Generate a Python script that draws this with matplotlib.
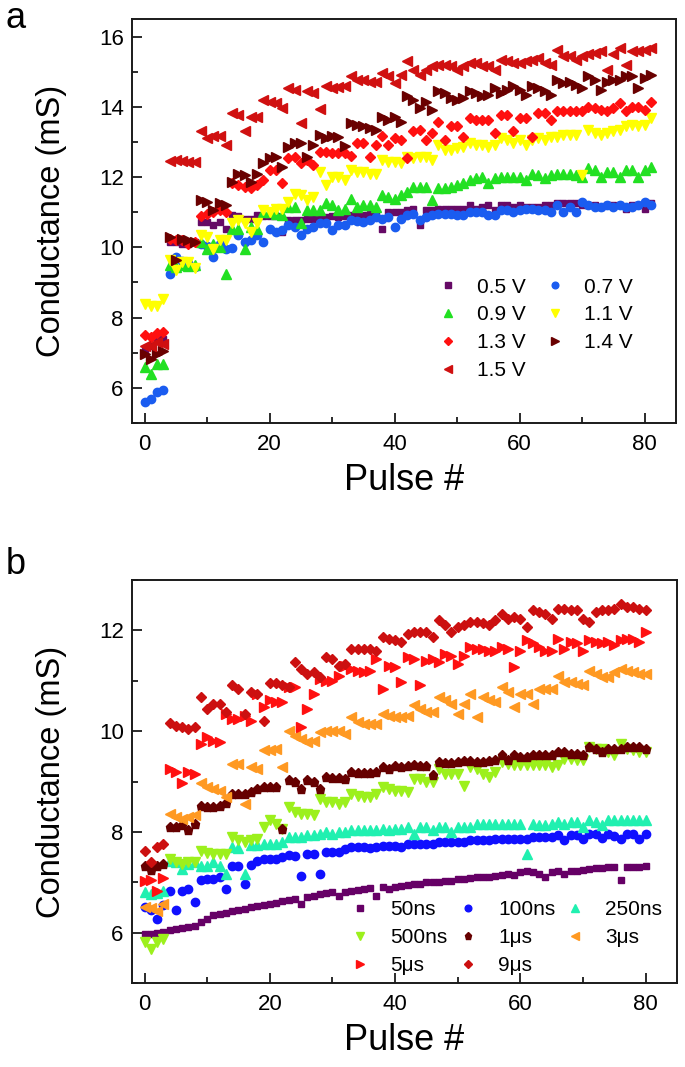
import matplotlib
matplotlib.use("Agg")
import matplotlib.pyplot as plt
from matplotlib.ticker import MultipleLocator

plt.rcParams['font.family'] = ['Liberation Sans', 'DejaVu Sans']

# ---------------- Panel a data (pulse 0..81) ----------------
labels_a = ["0.5 V", "0.7 V", "0.9 V", "1.1 V", "1.3 V", "1.4 V", "1.5 V"]
v05 = [7.05, 7.2, 7.35, 7.4,
       10.15, 10.15, 10.1, 10.1, 10.15,
       10.72, 10.72, 10.63, 10.72, 10.53,
       10.91, 10.9, 10.82, 10.82, 10.91, 10.9, 10.9, 10.9, 10.44,
       10.77, 10.77, 10.78, 10.8, 10.8, 10.82, 10.85, 10.88, 10.86, 10.9, 10.92, 10.9, 10.93, 10.95, 10.93, 10.53, 11.0,
       11.0, 11.0, 11.06, 11.1, 10.63, 11.06, 11.06, 11.1, 11.1, 11.1, 11.1, 11.1, 11.2, 11.1, 11.15, 11.2, 11.06,
       11.2, 11.2, 11.15, 11.2, 11.15, 11.15, 11.15, 11.2, 11.2, 11.25, 11.25, 11.25, 11.25, 11.2, 11.2, 11.2,
       11.15, 11.2, 11.2, 11.2, 11.1, 11.2, 11.2, 11.1, 11.25]
v07 = [5.6, 5.68, 5.87, 5.95,
       9.25, 9.72, 9.6, 9.55, 9.45,
       10.1, 10.05, 9.72, 10.1, 9.96, 9.99, 10.34, 10.15, 10.2, 10.34, 10.15, 10.53, 10.44, 10.49, 10.63, 10.58,
       10.34, 10.53, 10.58, 10.68, 10.68, 10.5, 10.63, 10.65, 10.77, 10.75, 10.72, 10.77, 10.87, 10.82, 10.87,
       10.58, 10.82, 10.91, 10.96, 10.77, 10.87, 10.91, 10.96, 10.96, 10.96, 10.91, 10.91, 11.0, 11.0, 11.0, 10.91,
       10.91, 11.06, 11.06, 11.0, 11.06, 11.1, 11.1, 11.06, 11.06, 11.0, 11.2, 11.0, 11.15, 11.0, 11.3, 11.2,
       11.15, 11.15, 11.2, 11.15, 11.2, 11.15, 11.15, 11.2, 11.3, 11.2]
v09 = [6.58, 6.39, 6.68, 6.68,
       9.49, 9.44, 9.49, 9.46, 9.49,
       10.15, 9.96, 10.1, 10.0, 9.25, 10.53, 10.53, 9.96, 10.58, 10.53, 11.0, 11.0, 10.96, 10.91, 11.15, 11.15,
       10.68, 11.06, 11.06, 11.06, 11.25, 11.2, 11.06, 11.1, 11.39, 11.15, 11.2, 11.2, 11.15, 11.49, 11.44,
       11.39, 11.49, 11.58, 11.72, 11.72, 11.72, 11.34, 11.68, 11.68, 11.72, 11.77, 11.82, 11.91, 11.96, 12.0,
       11.82, 11.96, 12.0, 12.0, 12.0, 12.0, 11.91, 12.1, 12.06, 11.96, 12.06, 12.1, 12.1, 12.1, 12.06, 12.0,
       12.25, 12.2, 12.0, 12.15, 12.15, 12.0, 12.2, 12.2, 12.0, 12.2, 12.3]
v11 = [8.39, 8.34, 8.34, 8.53,
       9.63, 9.36, 9.58, 9.58, 9.42,
       10.34, 10.3, 9.96, 10.2, 10.2, 10.68, 10.77, 10.68, 10.44, 10.68, 11.06, 11.0, 11.1, 11.08, 11.3, 11.53,
       11.49, 11.34, 11.44, 12.15, 11.77, 12.01, 12.01, 11.91, 12.2, 12.15, 12.15, 12.1, 12.1, 12.49, 12.44,
       12.44, 12.39, 12.58, 12.53, 12.58, 12.58, 12.49, 12.91, 12.77, 12.77, 12.82, 12.87, 12.96, 12.91, 12.91,
       12.87, 12.91, 13.1, 13.05, 12.96, 13.05, 12.91, 13.05, 13.1, 13.05, 13.15, 13.15, 13.2, 13.2, 13.2, 12.06,
       13.34, 13.25, 13.2, 13.25, 13.3, 13.34, 13.44, 13.49, 13.44, 13.49, 13.68]
v13 = [7.5, 7.45, 7.55, 7.6,
       10.25, 10.2, 10.2, 10.1, 10.15,
       10.9, 10.96, 11.0, 11.06, 11.0,
       11.82, 11.77, 11.72, 11.68, 11.77, 11.93, 12.2, 12.2, 11.82, 12.53, 12.58, 12.39, 12.49, 12.34, 12.72,
       12.72, 12.68, 12.68, 12.68, 12.6, 12.96, 12.96, 12.58, 12.91, 13.17, 12.91,
       13.1, 13.05, 12.53, 13.3, 13.34, 13.05, 13.25, 13.58, 13.05, 13.44, 13.44, 13.15, 13.68, 13.63, 13.63,
       13.63, 13.25, 13.77, 13.77, 13.3, 13.68, 13.68, 13.15, 13.82, 13.82, 13.63, 13.87, 13.87, 13.87, 13.87,
       13.87, 14.0, 13.96, 13.91, 13.87, 13.96, 14.1, 13.87, 14.0, 14.0, 13.91, 14.15]
v14 = [6.96, 6.82, 6.96, 7.06,
       10.3, 9.65, 10.25, 10.2, 10.15,
       11.35, 11.3, 11.05, 11.25, 11.2,
       11.87, 12.1, 12.06, 11.87, 12.1, 12.39, 12.53, 12.58, 12.3, 12.87, 12.96, 12.96, 12.58, 12.91, 13.2,
       13.1, 13.17, 13.15, 12.89, 13.53, 13.49, 13.44, 13.39, 13.34, 13.72, 13.63,
       13.72, 13.58, 14.3, 14.2, 13.96, 14.15, 13.91, 14.44, 14.39, 14.25, 14.2, 14.25, 14.44, 14.39, 14.3,
       14.34, 14.53, 14.39, 14.49, 14.58, 14.49, 14.34, 14.58, 14.53, 14.44, 14.34, 14.77, 14.68, 14.72, 14.63,
       14.53, 14.87, 14.77, 14.49, 14.72, 14.77, 14.77, 14.87, 14.87, 14.53, 14.82, 14.91]
v15 = [7.2, 7.2, 7.3, 7.25,
       12.47, 12.5, 12.45, 12.44, 12.44,
       13.32, 13.1, 13.17, 13.17, 12.91, 13.82, 13.77, 13.3, 13.7, 13.7, 14.2, 14.15, 14.1, 13.96, 14.53, 14.49,
       13.53, 14.44, 14.4, 13.94, 14.58, 14.53, 14.56, 14.58, 14.87, 14.77, 14.77, 14.72, 14.7, 14.96, 14.87,
       14.68, 14.91, 15.3, 15.06, 14.91, 15.06, 15.15, 15.2, 15.2, 15.15, 15.06, 15.15, 15.25, 15.25, 15.15,
       15.15, 15.06, 15.34, 15.3, 15.25, 15.25, 15.3, 15.34, 15.39, 15.25, 15.2, 15.63, 15.44, 15.44, 15.34,
       15.44, 15.49, 15.53, 15.58, 15.06, 15.49, 15.68, 15.2, 15.58, 15.58, 15.63, 15.68]
series_a = [v05, v07, v09, v11, v13, v14, v15]
markers_a = ['s', 'o', '^', 'v', 'D', '>', '<']
colors_a = ['#660a66', '#1a5cf0', '#22e022', '#ffff00', '#ff1010', '#6a0000', '#d01010']
sizes_a = [5, 6, 6.5, 6.5, 5, 6.5, 6.5]

# ---------------- Panel b data (pulse 0..80) ----------------
labels_b = ["50ns", "100ns", "250ns", "500ns", "1μs", "3μs", "5μs", "9μs"]
t50 = [5.97, 5.98, 6.0, 6.02, 6.05, 6.07, 6.09, 6.11, 6.14, 6.21, 6.27, 6.34, 6.37, 6.38, 6.42, 6.45, 6.47,
       6.5, 6.52, 6.54, 6.57, 6.59, 6.62, 6.64, 6.66, 6.56, 6.7, 6.73, 6.76, 6.78, 6.8, 6.73, 6.8, 6.83, 6.85,
       6.87, 6.89, 6.73, 6.9, 6.86, 6.9, 6.93, 6.95, 6.96, 6.96, 7.0, 7.0, 7.01, 7.03, 7.03, 7.07, 7.07, 7.08,
       7.1, 7.1, 7.11, 7.13, 7.15, 7.17, 7.15, 7.2, 7.23, 7.2, 7.17, 7.11, 7.2, 7.22, 7.17, 7.22, 7.23, 7.25,
       7.27, 7.28, 7.28, 7.3, 7.3, 7.04, 7.3, 7.3, 7.3, 7.33]
t100 = [6.5, 6.45, 6.27, 6.55, 6.83, 6.45, 6.83, 6.87, 6.6, 7.05, 7.07, 7.07, 7.1, 6.87, 7.33, 7.33, 6.97,
        7.35, 7.43, 7.46, 7.46, 7.46, 7.5, 7.55, 7.53, 7.13, 7.56, 7.56, 7.17, 7.6, 7.6, 7.6, 7.66, 7.7, 7.7,
        7.69, 7.67, 7.7, 7.71, 7.71, 7.71, 7.7, 7.76, 7.76, 7.76, 7.75, 7.76, 7.8, 7.8, 7.8, 7.8, 7.8, 7.83,
        7.83, 7.83, 7.83, 7.86, 7.86, 7.86, 7.86, 7.86, 7.86, 7.89, 7.89, 7.89, 7.89, 7.93, 7.84, 7.93, 7.93,
        7.86, 7.96, 7.95, 7.88, 7.96, 7.91, 7.86, 7.96, 7.96, 7.86, 7.96]
t250 = [6.8, 6.77, 6.78, 6.83, 7.43, 7.4, 7.26, 7.36, 7.4, 7.33, 7.33, 7.4, 7.33, 7.17, 7.7, 7.67, 7.17,
        7.73, 7.73, 7.76, 7.76, 7.76, 7.8, 7.89, 7.89, 7.89, 7.93, 7.93, 7.96, 7.99, 7.96, 7.99, 8.0, 8.04,
        8.03, 8.03, 8.04, 8.03, 8.06, 8.03, 8.06, 8.06, 8.09, 7.96, 8.09, 8.09, 8.03, 8.09, 8.09, 8.0, 8.09,
        8.09, 8.09, 8.16, 8.16, 8.16, 8.16, 8.16, 8.16, 8.16, 8.16, 7.56, 8.16, 8.13, 8.13, 8.16, 8.19, 8.16,
        8.19, 8.19, 8.09, 8.23, 8.19, 8.13, 8.23, 8.23, 8.23, 8.23, 8.23, 8.23, 8.23]
t500 = [5.81, 5.68, 5.81, 5.87, 7.46, 7.4, 7.36, 7.4, 7.4, 7.62, 7.58, 7.56, 7.56, 7.56, 7.89, 7.83, 7.8,
        7.83, 7.86, 8.09, 8.23, 8.16, 8.05, 8.5, 8.39, 8.36, 8.36, 8.33, 8.66, 8.59, 8.59, 8.56, 8.59, 8.75,
        8.72, 8.69, 8.69, 8.75, 8.89, 8.85, 8.82, 8.82, 8.79, 9.05, 9.05, 8.99, 8.99, 9.25, 9.15, 9.15, 9.15,
        8.92, 9.28, 9.25, 9.15, 9.09, 9.19, 9.38, 9.35, 9.32, 9.32, 9.32, 9.32, 9.32, 9.32, 9.28, 9.32, 9.45,
        9.45, 9.42, 9.42, 9.68, 9.65, 9.65, 9.58, 9.52, 9.75, 9.65, 9.62, 9.58, 9.58]
t1u = [7.33, 7.25, 7.33, 7.36, 8.09, 8.09, 8.13, 8.03, 8.16, 8.52, 8.49, 8.5, 8.52, 8.57, 8.75, 8.75, 8.75,
       8.79, 8.85, 8.89, 8.89, 8.89, 8.06, 9.02, 8.99, 8.85, 9.02, 8.99, 8.85, 9.09, 9.06, 9.06, 9.04, 9.19,
       9.17, 9.17, 9.17, 9.19, 9.28, 9.25, 9.3, 9.28, 9.3, 9.32, 9.3, 9.3, 9.12, 9.38, 9.37, 9.37, 9.38, 9.4,
       9.4, 9.38, 9.38, 9.4, 9.42, 9.52, 9.42, 9.52, 9.48, 9.48, 9.52, 9.52, 9.52, 9.52, 9.58, 9.58, 9.55,
       9.55, 9.52, 9.68, 9.65, 9.58, 9.65, 9.65, 9.65, 9.68, 9.68, 9.68, 9.65]
t3u = [6.5, 6.48, 6.43, 6.56, 8.36, 8.29, 8.26, 8.29, 8.33, 8.97, 8.89, 8.85, 8.82, 8.69, 9.35, 9.35, 8.56,
       9.28, 9.25, 9.62, 9.62, 9.65, 9.28, 10.01, 9.91, 9.85, 9.78, 9.81, 9.98, 10.01, 10.01, 10.01, 9.95,
       10.28, 10.18, 10.15, 10.15, 10.15, 10.34, 10.31, 10.28, 10.28, 10.31, 10.51, 10.44, 10.38, 10.38, 10.68,
       10.61, 10.54, 10.34, 10.54, 10.74, 10.28, 10.68, 10.61, 10.58, 10.87, 10.77, 10.48, 10.74, 10.74, 10.54,
       10.84, 10.84, 10.84, 11.1, 10.97, 10.97, 10.94, 10.91, 11.2, 11.14, 11.07, 11.07, 11.17, 11.24, 11.2,
       11.17, 11.14, 11.14]
t5u = [7.03, 7.05, 6.83, 7.08, 9.25, 9.19, 8.97, 9.19, 9.15, 9.75, 9.88, 9.81, 9.78, 10.34, 10.24, 10.24,
       10.31, 10.21, 10.74, 10.48, 10.61, 10.58, 10.58, 10.87, 10.87, 10.08, 10.44, 10.74, 11.04, 11.0, 11.0,
       11.1, 11.3, 11.24, 11.2, 11.17, 11.2, 11.44, 10.84, 11.3, 11.27, 10.97, 11.47, 11.44, 10.91, 11.4, 11.44,
       11.37, 11.54, 11.5, 11.34, 11.5, 11.67, 11.64, 11.64, 11.6, 11.6, 11.67, 11.64, 11.27, 11.6, 11.8, 11.74,
       11.67, 11.6, 11.6, 11.83, 11.64, 11.77, 11.74, 11.6, 11.8, 11.77, 11.74, 11.77, 11.7, 11.8, 11.83,
       11.83, 11.77, 11.97]
t9u = [7.63, 7.4, 7.7, 7.75, 10.16, 10.11, 10.08, 10.05, 10.08, 10.68, 10.44, 10.54, 10.53, 10.38, 10.91,
       10.84, 10.34, 10.77, 10.74, 10.21, 10.95, 10.95, 10.91, 10.87, 11.37, 11.24, 11.14, 11.17, 11.07, 11.47,
       11.44, 11.3, 11.34, 11.64, 11.64, 11.64, 11.64, 11.6, 11.87, 11.83, 11.8, 11.77, 11.93, 11.97, 11.97,
       11.97, 11.87, 12.2, 12.1, 11.97, 12.07, 12.1, 12.17, 12.17, 12.14, 12.1, 12.2, 12.33, 12.23, 12.26,
       12.23, 12.07, 12.4, 12.36, 12.33, 12.23, 12.43, 12.43, 12.4, 12.4, 12.23, 12.17, 12.36, 12.4, 12.4,
       12.43, 12.53, 12.46, 12.46, 12.43, 12.4]
series_b = [t50, t100, t250, t500, t1u, t3u, t5u, t9u]
markers_b = ['s', 'o', '^', 'v', 'p', '<', '>', 'D']
colors_b = ['#660066', '#1010ff', '#20f0b0', '#9cf01c', '#660000', '#ff9922', '#ff1010', '#cc1010']
sizes_b = [5, 6, 6.5, 6.5, 6.5, 6.5, 6.5, 5]

fig = plt.figure(figsize=(6.85, 10.67), dpi=100)
ax_a = fig.add_axes([132/685, (1067-423)/1067, 544/685, 404/1067])
ax_b = fig.add_axes([132/685, (1067-983)/1067, 545/685, 403/1067])


def style(ax):
    for s in ax.spines.values():
        s.set_linewidth(1.4)
        s.set_color('#1a1a1a')
    ax.tick_params(which='both', direction='in', top=False, right=False,
                   labelsize=16, width=1.3, color='#1a1a1a')
    ax.tick_params(which='major', length=7, pad=6)
    ax.tick_params(which='minor', length=4)
    ax.tick_params(axis='x', which='major', pad=8)
    ax.xaxis.set_major_locator(MultipleLocator(20))
    ax.xaxis.set_minor_locator(MultipleLocator(10))
    ax.yaxis.set_major_locator(MultipleLocator(2))
    ax.yaxis.set_minor_locator(MultipleLocator(1))
    ax.set_xlim(-2, 85)
    ax.set_xlabel('Pulse #', fontsize=26, labelpad=6)
    ax.set_ylabel('Conductance (mS)', fontsize=23.5, labelpad=23)


# Panel a
for vals, lab, mk, col, ms in zip(series_a, labels_a, markers_a, colors_a, sizes_a):
    xs = list(range(len(vals)))
    ax_a.plot(xs, vals, ls='none', marker=mk, ms=ms, color=col, mec=col, label=lab)
style(ax_a)
ax_a.set_ylim(5, 16.5)
h, l = ax_a.get_legend_handles_labels()
order = [0, 2, 4, 6, 1, 3, 5]
ax_a.legend([h[i] for i in order], [l[i] for i in order], ncol=2, frameon=False,
            fontsize=15, loc='upper left', bbox_to_anchor=(0.562, 0.36),
            handlelength=1.0, handletextpad=0.9, columnspacing=0.9, labelspacing=0.42,
            borderaxespad=0, borderpad=0, markerscale=0.8)

# Panel b
for vals, lab, mk, col, ms in zip(series_b, labels_b, markers_b, colors_b, sizes_b):
    xs = list(range(len(vals)))
    ax_b.plot(xs, vals, ls='none', marker=mk, ms=ms, color=col, mec=col, label=lab)
style(ax_b)
ax_b.set_ylim(5, 13)
h, l = ax_b.get_legend_handles_labels()
order = [0, 3, 6, 1, 4, 7, 2, 5]
ax_b.legend([h[i] for i in order], [l[i] for i in order], ncol=3, frameon=False,
            fontsize=15, loc='upper left', bbox_to_anchor=(0.4, 0.205),
            handlelength=1.0, handletextpad=0.95, columnspacing=0.45, labelspacing=0.42,
            borderaxespad=0, borderpad=0, markerscale=0.8)

fig.text(0.008, 0.983, 'a', fontsize=26, va='center', ha='left')
fig.text(0.008, 0.471, 'b', fontsize=26, va='center', ha='left')

fig.savefig('out.png', dpi=100)
